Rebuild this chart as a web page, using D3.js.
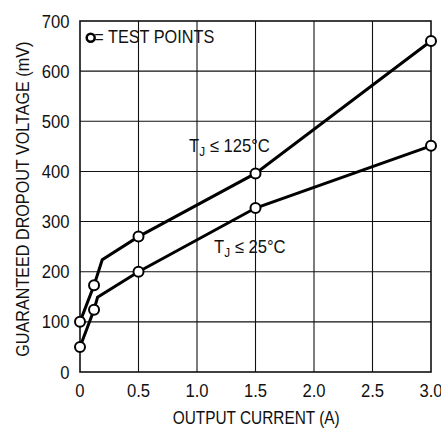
<!DOCTYPE html>
<html><head><meta charset="utf-8">
<script src="https://cdn.jsdelivr.net/npm/d3@7"></script>
<style>
body{margin:0;background:#fff;}
text{font-family:"Liberation Sans",Arial,sans-serif;fill:#111;}
</style></head>
<body>
<svg id="chart" width="441" height="428"></svg>
<script>
const xTicks = [0, 0.5, 1.0, 1.5, 2.0, 2.5, 3.0];
const xTickLabels = ["0", "0.5", "1.0", "1.5", "2.0", "2.5", "3.0"];
const yTicks = [0, 100, 200, 300, 400, 500, 600, 700];
const current125 = [0, 0.12, 0.19, 0.5, 1.5, 3.0];
const dropout125 = [100, 173, 224, 270, 396, 660];
const marker125 = [true, true, false, true, true, true];
const current25 = [0, 0.12, 0.15, 0.5, 1.5, 3.0];
const dropout25 = [50, 124, 149, 200, 327, 451];
const marker25 = [true, true, false, true, true, true];

const svg = d3.select("#chart");
const L = 80, R = 431, T = 21, B = 372;
const SX = 0.9, FS = 18.5;
const x = d3.scaleLinear().domain([0, 3]).range([L, R]);
const y = d3.scaleLinear().domain([0, 700]).range([B, T]);

// grid
const g = svg.append("g");
g.selectAll("line.vx").data(xTicks.slice(1, -1)).enter().append("line")
  .attr("x1", d => x(d)).attr("x2", d => x(d)).attr("y1", T).attr("y2", B)
  .attr("stroke", "#111").attr("stroke-width", 1.1);
g.selectAll("line.hy").data(yTicks.slice(1, -1)).enter().append("line")
  .attr("y1", d => y(d)).attr("y2", d => y(d)).attr("x1", L).attr("x2", R)
  .attr("stroke", "#111").attr("stroke-width", 1.1);
svg.append("rect").attr("x", L).attr("y", T).attr("width", R - L).attr("height", B - T)
  .attr("fill", "none").attr("stroke", "#111").attr("stroke-width", 1.6);

// tick labels (condensed via horizontal scale)
svg.selectAll("text.xt").data(xTicks).enter().append("text")
  .attr("transform", d => `translate(${x(d)},396.7) scale(${SX},1)`)
  .attr("text-anchor", "middle").attr("font-size", FS)
  .text((d, i) => xTickLabels[i]);
svg.selectAll("text.yt").data(yTicks).enter().append("text")
  .attr("transform", d => `translate(69.5,${y(d) + 6.6}) scale(${SX},1)`)
  .attr("text-anchor", "end").attr("font-size", FS)
  .text(d3.format("d"));

// titles
svg.append("text").attr("x", 172.7).attr("y", 424).attr("font-size", FS)
  .attr("textLength", 167).attr("lengthAdjust", "spacingAndGlyphs").text("OUTPUT CURRENT (A)");
svg.append("text").attr("transform", `translate(28.5,356.7) rotate(-90)`)
  .attr("x", 0).attr("y", 0).attr("font-size", FS)
  .attr("textLength", 315).attr("lengthAdjust", "spacingAndGlyphs").text("GUARANTEED DROPOUT VOLTAGE (mV)");

// lines
const line = d3.line().x(d => x(d[0])).y(d => y(d[1]));
function series(cur, vals, marks) {
  const pts = cur.map((c, i) => [c, vals[i], marks[i]]);
  svg.append("path").datum(pts).attr("d", line).attr("fill", "none")
    .attr("stroke", "#000").attr("stroke-width", 3).attr("stroke-linejoin", "miter");
  svg.selectAll(null).data(pts.filter(p => p[2])).enter().append("circle")
    .attr("cx", d => x(d[0])).attr("cy", d => y(d[1])).attr("r", 5)
    .attr("fill", "#fff").attr("stroke", "#000").attr("stroke-width", 2);
}
series(current125, dropout125, marker125);
series(current25, dropout25, marker25);

// legend
svg.append("circle").attr("cx", 90.7).attr("cy", 37.7).attr("r", 4).attr("fill", "#fff")
  .attr("stroke", "#000").attr("stroke-width", 2.5);
svg.append("text").attr("x", 94.3).attr("y", 43.3).attr("font-size", FS)
  .attr("textLength", 120).attr("lengthAdjust", "spacingAndGlyphs").text("= TEST POINTS");

// curve labels
function tlabel(xp, yp, temp) {
  const t = svg.append("text").attr("transform", `translate(${xp},${yp}) scale(${SX},1)`)
    .attr("font-size", FS);
  t.append("tspan").text("T");
  t.append("tspan").attr("dy", 4).attr("font-size", 13).text("J");
  t.append("tspan").attr("dy", -4).text(" \u2264 " + temp + "\u00B0C");
}
tlabel(189, 151.7, "125");
tlabel(214, 253.3, "25");
</script>
</body></html>
